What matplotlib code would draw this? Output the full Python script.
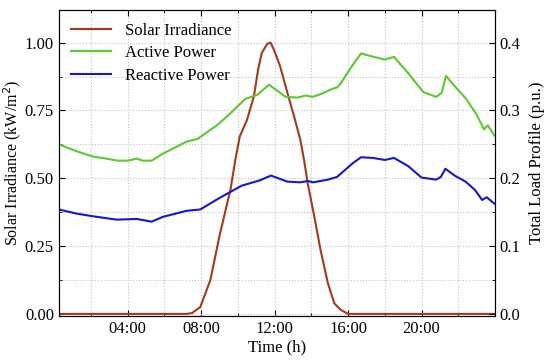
import matplotlib
matplotlib.use("Agg")
import matplotlib.pyplot as plt
from matplotlib.ticker import MultipleLocator, FuncFormatter

plt.rcParams["font.family"] = ["Liberation Serif", "DejaVu Serif"]

# 光照 (kW/m^2), 左轴
solar_t = [0.25, 7.2, 7.5, 7.95, 8.5, 9.0, 9.6, 9.86, 10.1, 10.5, 10.87, 11.1,
           11.3, 11.6, 11.78, 11.96, 12.3, 12.7, 13.06, 13.4, 13.6, 13.8,
           14.16, 14.5, 14.9, 15.25, 15.6, 16.0, 24.0]
solar_v = [0.0, 0.0, 0.003, 0.025, 0.125, 0.288, 0.46, 0.568, 0.654, 0.716,
           0.802, 0.90, 0.962, 0.996, 1.0, 0.974, 0.913, 0.814, 0.728, 0.642,
           0.568, 0.482, 0.359, 0.236, 0.113, 0.039, 0.015, 0.0, 0.0]

# 有功 (p.u.), 右轴
active_t = [0.25, 1.2, 2.1, 2.85, 3.45, 4.0, 4.5, 4.8, 5.3, 5.9, 7.2, 7.8,
            8.9, 9.6, 10.4, 11.05, 11.7, 12.6, 13.24, 13.7, 14.06, 14.5,
            15.16, 15.4, 15.6, 16.2, 16.7, 17.26, 18.0, 18.5, 19.27, 20.1,
            20.8, 21.1, 21.33, 21.8, 22.4, 23.0, 23.4, 23.6, 24.0]
active_v = [0.250, 0.240, 0.232, 0.229, 0.226, 0.226, 0.229, 0.226, 0.226,
            0.236, 0.254, 0.258, 0.279, 0.296, 0.317, 0.323, 0.338, 0.320,
            0.319, 0.322, 0.320, 0.324, 0.332, 0.334, 0.340, 0.365, 0.384,
            0.380, 0.375, 0.379, 0.355, 0.327, 0.320, 0.326, 0.351, 0.336,
            0.318, 0.294, 0.272, 0.278, 0.262]

# 无功 (p.u.), 右轴
reactive_t = [0.25, 1.2, 2.1, 3.4, 4.5, 5.3, 5.9, 7.2, 7.95, 9.0, 10.2, 11.2,
              11.8, 12.7, 13.4, 13.8, 14.1, 14.9, 15.4, 16.2, 16.7, 17.35,
              18.0, 18.5, 19.27, 20.0, 20.8, 21.05, 21.3, 21.8, 22.4, 22.9,
              23.3, 23.55, 23.9, 24.0]
reactive_v = [0.154, 0.148, 0.144, 0.139, 0.140, 0.136, 0.143, 0.152, 0.154,
              0.171, 0.189, 0.197, 0.204, 0.195, 0.194, 0.196, 0.194, 0.198,
              0.202, 0.221, 0.231, 0.230, 0.227, 0.230, 0.218, 0.201, 0.198,
              0.202, 0.214, 0.204, 0.195, 0.183, 0.168, 0.172, 0.164, 0.162]

hour_ticks = [4, 8, 12, 16, 20]

fig = plt.figure(figsize=(5.5, 3.6), dpi=100)
ax = fig.add_axes([0.107, 0.122, 0.793, 0.85])
ax2 = ax.twinx()

fs = 12
ylim_l = (-0.008, 1.12)

l1, = ax.plot(solar_t, solar_v, color="#a23a1c", lw=1.5, label="Solar Irradiance")
l2, = ax2.plot(active_t, active_v, color="#5cc832", lw=1.5, label="Active Power")
l3, = ax2.plot(reactive_t, reactive_v, color="#1616cc", lw=1.5, label="Reactive Power")

ax.set_xlim(0.25, 24.0)
ax.set_ylim(*ylim_l)
ax2.set_ylim(ylim_l[0] * 0.4, ylim_l[1] * 0.4)

ax.set_xticks(hour_ticks)
ax.xaxis.set_major_formatter(FuncFormatter(lambda v, p: f"{int(v):02d}:00"))
ax.xaxis.set_minor_locator(MultipleLocator(2))
ax.yaxis.set_major_locator(MultipleLocator(0.25))
ax.yaxis.set_minor_locator(MultipleLocator(0.125))
ax.yaxis.set_major_formatter(FuncFormatter(lambda v, p: f"{v:.2f}"))
ax2.yaxis.set_major_locator(MultipleLocator(0.1))
ax2.yaxis.set_minor_locator(MultipleLocator(0.05))
ax2.yaxis.set_major_formatter(FuncFormatter(lambda v, p: f"{v:.1f}"))

ax.tick_params(which="both", direction="in", top=True, labelsize=fs)
ax.tick_params(which="major", length=4)
ax.tick_params(which="minor", length=2.5)
ax2.tick_params(which="both", direction="in", labelsize=fs)
ax2.tick_params(which="major", length=4)
ax2.tick_params(which="minor", length=2.5)

ax.grid(which="both", color="#c4c4c4", linestyle=":", lw=0.8)
ax.set_axisbelow(True)

ax.set_xlabel("Time (h)", fontsize=fs, labelpad=2)
ax.set_ylabel("Solar Irradiance (kW/m$^2$)", fontsize=11.5, labelpad=1)
ax2.set_ylabel("Total Load Profile (p.u.)", fontsize=fs, labelpad=6)

ax2.legend(handles=[l1, l2, l3], loc="upper left", frameon=False, fontsize=fs,
           handlelength=2.4, labelspacing=0.4, borderaxespad=0.35,
           bbox_to_anchor=(0.0, 1.0))

fig.savefig("out.png", dpi=100)
